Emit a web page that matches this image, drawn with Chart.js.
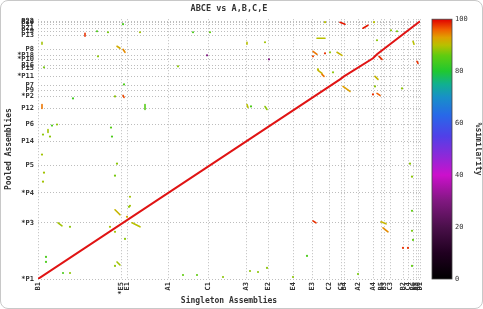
<!DOCTYPE html>
<html>
<head>
<meta charset="utf-8">
<script src="https://cdn.jsdelivr.net/npm/chart.js@4"></script>
<style>
  html, body { margin: 0; padding: 0; background: #fff; }
  #wrap { position: relative; width: 483px; height: 309px; }
  #frame { position: absolute; left: 0; top: 0; width: 481px; height: 307px;
           border: 1px solid #c8c8c8; border-radius: 8px; pointer-events: none; }
</style>
</head>
<body>
<div id="wrap">
  <canvas id="dotplot" width="483" height="309"></canvas>
  <div id="frame"></div>
</div>
<script>
  // Axis ticks (positions along the concatenated assemblies, arbitrary units)
  const xTickPos = [0, 83, 89, 130, 170, 208, 230, 255, 274, 291, 303, 306, 320, 335, 343, 346, 352, 365, 370, 375, 378, 380, 382];
  const xTickLabels = ['B1', '*E5', 'E1', 'A1', 'C1', 'A3', 'E2', 'E4', 'E3', 'C2', 'C5', 'B4', 'A2', 'A4', 'B5', 'B3', 'C3', 'B2', 'C4', 'B6', 'A5', 'E6', 'D1'];
  const yTickPos = [0, 56, 86, 113, 137, 154, 170, 182, 188, 193, 202, 210, 213, 219, 223, 229, 243, 247, 250, 254, 256, 257];
  const yTickLabels = ['*P1', '*P3', '*P4', 'P5', 'P14', 'P6', 'P12', '*P2', 'P9', 'P7', '*P11', 'P15', 'P16', '*P10', '*P18', 'P8', 'P13', 'P19', 'P21', 'P17', 'P20', 'P22'];
  const xMax = 382;
  const yMax = 259;

  // Main alignment (near-diagonal), similarity ~100
  const diagX = [0, 302, 306, 335, 339, 382];
  const diagY = [0, 199, 202, 220, 224, 257];

  // Short off-diagonal matches: start, end, % similarity
  const segX1 = [77, 94, 20, 79, 79, 85, 47, 4, 4, 107, 10, 209, 275, 209, 227, 302, 325, 279, 299, 375, 341, 379, 280, 284, 337, 305, 339, 275, 343, 345, 85];
  const segY1 = [69, 56, 56, 17, 232, 229, 245, 236, 174, 174, 149, 236, 227, 174, 172, 256, 250, 240, 226, 237, 222, 217, 208, 204, 202, 192, 185, 58, 57, 51, 183];
  const segX2 = [82, 102, 24, 82, 82, 87, 47, 4, 4, 107, 10, 209, 279, 210, 229, 307, 330, 287, 304, 376, 344, 380, 284, 286, 340, 312, 342, 278, 348, 350, 86];
  const segY2 = [64, 52, 53, 14, 230, 226, 242, 234, 170, 169, 146, 234, 224, 171, 169, 254, 253, 240, 223, 234, 219, 215, 205, 202, 199, 187, 183, 56, 55, 47, 181];
  const segSim = [91, 90, 89, 89, 92, 94, 98, 89, 95, 85, 89, 90, 95, 90, 88, 99, 99, 90, 91, 90, 98, 98, 91, 95, 91, 93, 96, 98, 91, 94, 97];

  // Isolated short hits
  const dotX = [59, 70, 102, 85, 60, 6, 86, 35, 77, 14, 19, 5, 12, 73, 74, 4, 79, 6, 5, 77, 92, 91, 72, 77, 92, 89, 32, 8, 8, 25, 32, 77, 87,
                155, 172, 227, 169, 140, 231, 275, 280, 213, 287, 336, 353, 359, 339, 287, 292, 295, 337, 335, 364,
                365, 370, 269, 374, 320, 375, 372, 374, 374, 374, 145, 159, 185, 212, 220, 229, 255];
  const dotY = [247, 246, 246, 254, 222, 211, 194, 180, 182, 153, 154, 144, 142, 151, 142, 124, 115, 106, 97, 103, 82, 72, 52, 47, 73, 62, 52, 22, 17, 6, 6, 13, 40,
                246, 246, 236, 223, 212, 219, 222, 209, 172, 256, 256, 248, 247, 238, 225, 226, 206, 192, 184, 190,
                31, 31, 23, 13, 5, 39, 115, 102, 68, 48, 4, 4, 2, 8, 7, 11, 2];
  const dotSim = [84, 87, 89, 84, 88, 87, 84, 83, 88, 84, 88, 88, 88, 85, 84, 89, 88, 89, 89, 87, 89, 88, 89, 89, 89, 92, 88, 84, 84, 84, 88, 88, 88,
                  84, 86, 89, 30, 88, 30, 97, 90, 84, 90, 90, 88, 87, 88, 98, 88, 88, 88, 98, 88,
                  98, 98, 84, 86, 87, 86, 88, 88, 86, 87, 86, 86, 88, 88, 88, 88, 88];

  // Colour bar
  const cbTicks = [0, 20, 40, 60, 80, 100];
  const cbStops = [[0, '#000000'], [10, '#200020'], [20, '#4a104a'], [30, '#801880'], [40, '#cc10cc'], [47, '#9028d8'],
                   [55, '#5040e8'], [63, '#2868e8'], [70, '#1890c8'], [75, '#10b090'], [80, '#20c830'], [86, '#60cc10'],
                   [90, '#b8c000'], [93, '#e0a000'], [96, '#f06000'], [100, '#e00000']];

  function hexToRgb(h) {
    return [parseInt(h.substr(1, 2), 16), parseInt(h.substr(3, 2), 16), parseInt(h.substr(5, 2), 16)];
  }
  function colorAt(v) {
    for (let i = 1; i < cbStops.length; i++) {
      if (v <= cbStops[i][0]) {
        const [v0, c0] = cbStops[i - 1];
        const [v1, c1] = cbStops[i];
        const t = (v - v0) / (v1 - v0);
        const a = hexToRgb(c0), b = hexToRgb(c1);
        const m = a.map((c, k) => Math.round(c + (b[k] - c) * t));
        return `rgb(${m[0]},${m[1]},${m[2]})`;
      }
    }
    return cbStops[cbStops.length - 1][1];
  }

  // build the datasets
  const segData = [];
  segX1.forEach((x, i) => {
    segData.push({ x: x, y: segY1[i], s: segSim[i] });
    segData.push({ x: segX2[i], y: segY2[i], s: segSim[i] });
    segData.push({ x: segX2[i], y: null, s: segSim[i] });
  });
  const diagData = diagX.map((x, i) => ({ x: x, y: diagY[i] }));
  const dotData = dotX.map((x, i) => ({ x: x, y: dotY[i] }));

  const monoFont = "'DejaVu Sans Mono', 'Liberation Mono', monospace";

  // draws the similarity colour bar next to the plot, using the cb scale
  const colorBarPlugin = {
    id: 'colorBar',
    afterDraw(chart) {
      const s = chart.scales.cb;
      const ctx = chart.ctx;
      const top = s.getPixelForValue(100);
      const bottom = s.getPixelForValue(0);
      const x0 = s.left + 12;
      const w = 20;
      const grad = ctx.createLinearGradient(0, bottom, 0, top);
      cbStops.forEach(([v, c]) => grad.addColorStop(v / 100, c));
      ctx.save();
      ctx.fillStyle = grad;
      ctx.fillRect(x0, top, w, bottom - top);
      ctx.strokeStyle = '#444';
      ctx.lineWidth = 0.8;
      ctx.strokeRect(x0, top, w, bottom - top);
      ctx.restore();
    }
  };

  const ctx = document.getElementById('dotplot').getContext('2d');
  const dotplot = new Chart(ctx, {
    type: 'scatter',
    data: {
      datasets: [
        {
          label: 'matches',
          data: segData,
          showLine: true,
          spanGaps: false,
          pointRadius: 0,
          borderWidth: 1.6,
          borderCapStyle: 'round',
          segment: {
            borderColor: c => colorAt(segData[c.p0DataIndex].s)
          }
        },
        {
          label: 'hits',
          data: dotData,
          pointRadius: 1.1,
          pointBorderWidth: 0,
          pointBackgroundColor: dotSim.map(colorAt)
        },
        {
          label: 'main',
          data: diagData,
          showLine: true,
          pointRadius: 0,
          borderColor: '#e01414',
          borderWidth: 2
        }
      ]
    },
    options: {
      responsive: false,
      animation: false,
      layout: { padding: { top: 2, left: 3, right: 0, bottom: 0 } },
      plugins: {
        legend: { display: false },
        tooltip: { enabled: false },
        title: {
          display: true,
          text: 'ABCE vs A,B,C,E',
          fullSize: false,
          color: '#333',
          font: { family: monoFont, size: 8.5, weight: 'bold' },
          padding: { top: 2, bottom: 5 }
        }
      },
      scales: {
        x: {
          type: 'linear',
          min: 0,
          max: xMax,
          afterBuildTicks: s => { s.ticks = xTickPos.map(v => ({ value: v })); },
          afterFit: s => { s.height = 30; },
          ticks: {
            autoSkip: false,
            minRotation: 90,
            maxRotation: 90,
            padding: 3,
            color: '#333',
            font: { family: monoFont, size: 7, weight: 'bold' },
            callback: (v, i) => xTickLabels[i]
          },
          grid: { color: '#bdbdbd', lineWidth: 1, drawTicks: false, borderDash: [1, 2] },
          border: { display: false, dash: [1, 2] },
          title: {
            display: true,
            text: 'Singleton Assemblies',
            color: '#333',
            font: { family: monoFont, size: 8, weight: 'bold' },
            padding: { top: 0, bottom: 3 }
          }
        },
        y: {
          type: 'linear',
          position: 'left',
          min: 0,
          max: yMax,
          afterBuildTicks: s => { s.ticks = yTickPos.map(v => ({ value: v })); },
          afterFit: s => { s.width = 35; },
          ticks: {
            autoSkip: false,
            padding: 4,
            color: '#333',
            font: { family: monoFont, size: 7, weight: 'bold' },
            callback: (v, i) => yTickLabels[i]
          },
          grid: { color: '#bdbdbd', lineWidth: 1, drawTicks: false, borderDash: [1, 2] },
          border: { display: false, dash: [1, 2] },
          title: {
            display: true,
            text: 'Pooled Assemblies',
            color: '#333',
            font: { family: monoFont, size: 8, weight: 'bold' },
            padding: { top: 1, bottom: 0 }
          }
        },
        cb: {
          type: 'linear',
          position: 'right',
          min: 0,
          max: 100,
          afterBuildTicks: s => { s.ticks = cbTicks.map(v => ({ value: v })); },
          afterFit: s => { s.width = 63; },
          ticks: {
            padding: 2,
            color: '#333',
            font: { family: monoFont, size: 7 }
          },
          // tick marks are hidden; their length only pushes the labels past the colour bar
          grid: { display: false, drawTicks: true, tickLength: 33 },
          border: { display: false },
          title: {
            display: true,
            text: '%similarity',
            color: '#333',
            font: { family: monoFont, size: 8, weight: 'bold' },
            padding: { top: 0, bottom: 6 }
          }
        }
      }
    },
    plugins: [colorBarPlugin]
  });
</script>
</body>
</html>
